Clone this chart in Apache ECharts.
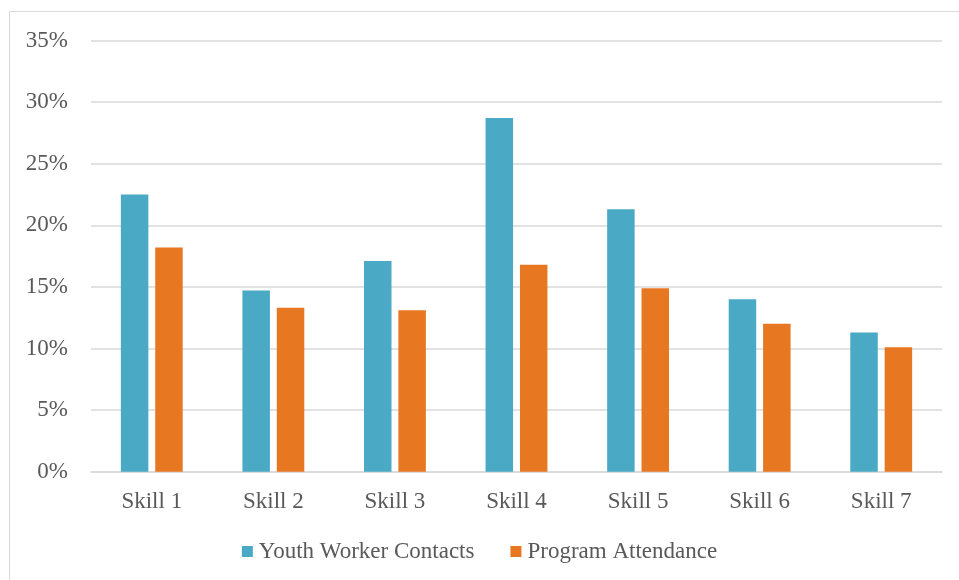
<!DOCTYPE html>
<html>
<head>
<meta charset="utf-8">
<script src="https://cdn.jsdelivr.net/npm/echarts@6/dist/echarts.min.js"></script>
<style>
html,body{margin:0;padding:0;background:#fff;}
#chart{width:959px;height:580px;}
</style>
</head>
<body>
<div id="chart"></div>
<script>
const categories = ['Skill 1','Skill 2','Skill 3','Skill 4','Skill 5','Skill 6','Skill 7'];
const youthWorkerContacts = [22.5, 14.7, 17.1, 28.7, 21.3, 14.0, 11.3];
const programAttendance = [18.2, 13.3, 13.1, 16.8, 14.9, 12.0, 10.1];
const seriesNames = ['Youth Worker Contacts', 'Program Attendance'];

const FONT = '"Liberation Serif", "Times New Roman", serif';
const chart = echarts.init(document.getElementById('chart'), null, {renderer:'canvas'});
chart.setOption({
  animation: false,
  backgroundColor: '#fff',
  textStyle: {fontFamily: FONT},
  graphic: [{
    type: 'rect',
    shape: {x: 9.5, y: 11.5, width: 980, height: 620},
    style: {fill: 'none', stroke: '#d9d9d9', lineWidth: 1},
    silent: true
  }],
  legend: {
    data: seriesNames,
    top: 535,
    left: 'center',
    itemWidth: 11,
    itemHeight: 11,
    itemGap: 36,
    icon: 'rect',
    textStyle: {fontFamily: FONT, fontSize: 23, color: '#595959', padding: [0,0,0,1]}
  },
  grid: {left: 91, right: 17, top: 40.5, bottom: 108.3, containLabel: false},
  xAxis: {
    type: 'category',
    data: categories,
    axisLine: {show: true, lineStyle: {color: '#d9d9d9', width: 1.5}},
    axisTick: {show: false},
    axisLabel: {fontFamily: FONT, fontSize: 23, color: '#595959', margin: 19}
  },
  yAxis: {
    type: 'value',
    min: 0, max: 35, interval: 5,
    axisLine: {show: false},
    axisTick: {show: false},
    splitLine: {lineStyle: {color: '#d9d9d9', width: 1.5}},
    axisLabel: {fontFamily: FONT, fontSize: 23, color: '#595959', margin: 23, formatter: '{value}%'}
  },
  series: [
    {name: seriesNames[0], type: 'bar', data: youthWorkerContacts, barWidth: 27.5, barGap: '25%',
     itemStyle: {color: '#4AAAC5'}},
    {name: seriesNames[1], type: 'bar', data: programAttendance, barWidth: 27.5, barGap: '25%',
     itemStyle: {color: '#E87722'}}
  ]
});
</script>
</body>
</html>
